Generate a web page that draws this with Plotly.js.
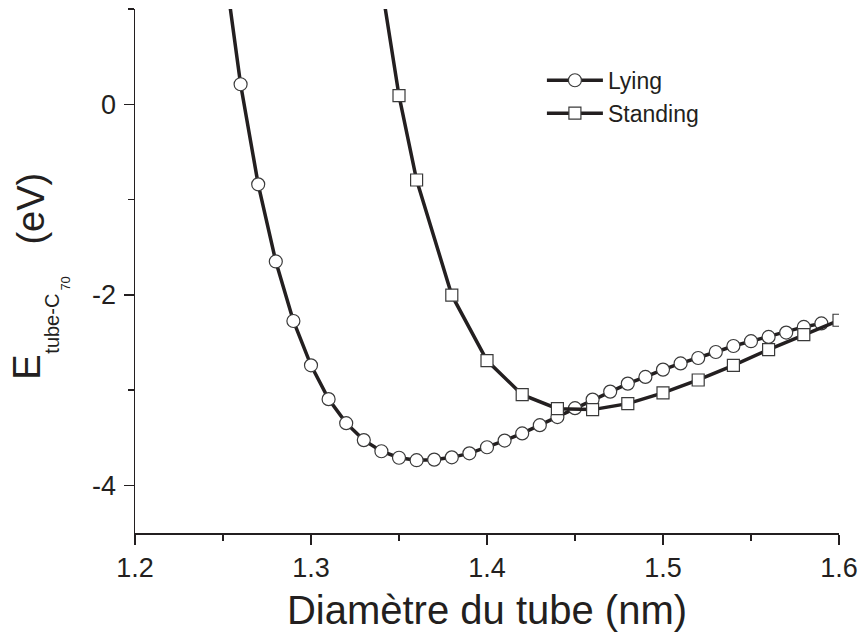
<!DOCTYPE html>
<html>
<head>
<meta charset="utf-8">
<script src="https://cdn.plot.ly/plotly-3.0.1.min.js"></script>
<style>html,body{margin:0;padding:0;background:#fff;}#chart{width:858px;height:638px;}</style>
</head>
<body>
<div id="chart"></div>
<script>
// Diameter (nm) and energy (eV)
const lyingX = [1.25,1.26,1.27,1.28,1.29,1.30,1.31,1.32,1.33,1.34,1.35,1.36,1.37,1.38,1.39,1.40,1.41,1.42,1.43,1.44,1.45,1.46,1.47,1.48,1.49,1.50,1.51,1.52,1.53,1.54,1.55,1.56,1.57,1.58,1.59];
const lyingY = [1.57,0.21,-0.84,-1.65,-2.275,-2.74,-3.095,-3.347,-3.525,-3.642,-3.71,-3.736,-3.73,-3.706,-3.664,-3.60,-3.53,-3.455,-3.368,-3.283,-3.19,-3.10,-3.016,-2.932,-2.862,-2.785,-2.72,-2.663,-2.60,-2.537,-2.487,-2.442,-2.396,-2.337,-2.30];
const standingX = [1.34,1.35,1.36,1.38,1.40,1.42,1.44,1.46,1.48,1.50,1.52,1.54,1.56,1.58,1.60];
const standingY = [1.26,0.09,-0.795,-2.004,-2.69,-3.048,-3.195,-3.205,-3.142,-3.03,-2.894,-2.74,-2.575,-2.417,-2.267];
const xTickVals = [1.2,1.3,1.4,1.5,1.6];
const xTickText = ['1.2','1.3','1.4','1.5','1.6'];
const yTickVals = [0,-2,-4];
const yTickText = ['0','-2','-4'];
const seriesNames = ['Lying','Standing'];
const yTitleParts = ['E','tube-C','70','(eV)'];
const xTitle = 'Diamètre du tube (nm)';

const FONT = 'Liberation Sans, Arial, Helvetica, sans-serif';
const INK = '#231f20';

// plot-area geometry in px (for placing the composite y title)
const M = {l: 134.5, r: 18.5, t: 9.3, b: 105.3};
const W = 858, H = 638;
const pw = W - M.l - M.r, ph = H - M.t - M.b;
const px2x = p => (p - M.l) / pw;
const py2y = p => (H - M.b - p) / ph;

const traces = [
  {x: lyingX, y: lyingY, name: seriesNames[0], type: 'scatter', mode: 'lines+markers',
   line: {color: INK, width: 3.5},
   marker: {symbol: 'circle', size: 13, color: '#ffffff', line: {color: '#3a3a3a', width: 1.2}}},
  {x: standingX, y: standingY, name: seriesNames[1], type: 'scatter', mode: 'lines+markers',
   line: {color: INK, width: 3.5},
   marker: {symbol: 'square', size: 12, color: '#ffffff', line: {color: '#3a3a3a', width: 1.2}}}
];

function rotAnn(text, cx, cy, size) {
  return {xref: 'paper', yref: 'paper', x: px2x(cx), y: py2y(cy), xanchor: 'center', yanchor: 'middle',
          textangle: -90, showarrow: false, text: text, font: {family: FONT, size: size, color: INK}};
}

const layout = {
  width: W, height: H,
  margin: M,
  paper_bgcolor: '#ffffff', plot_bgcolor: '#ffffff',
  font: {family: FONT, color: INK},
  showlegend: true,
  legend: {x: 0.578, y: 0.905, xanchor: 'left', yanchor: 'top', bgcolor: 'rgba(0,0,0,0)',
           itemwidth: 56,
           font: {family: FONT, size: 23, color: INK}, tracegroupgap: 0},
  xaxis: {
    range: [1.2, 1.6], showgrid: false, zeroline: false, showline: true,
    linecolor: INK, linewidth: 1.5, mirror: false,
    ticks: 'outside', ticklen: 10, tickwidth: 1.5, tickcolor: INK,
    tickvals: xTickVals, ticktext: xTickText,
    tickfont: {family: FONT, size: 27, color: INK},
    minor: {dtick: 0.05, tick0: 1.2, ticks: 'outside', ticklen: 6, tickwidth: 1.5, tickcolor: INK, showgrid: false},
    title: {text: xTitle, font: {family: FONT, size: 40, color: INK}, standoff: 14}
  },
  yaxis: {
    range: [-4.5, 1], showgrid: false, zeroline: false, showline: true,
    linecolor: INK, linewidth: 1.5, mirror: false,
    ticks: 'outside', ticklen: 10, tickwidth: 1.5, tickcolor: INK,
    tickvals: yTickVals, ticktext: yTickText,
    tickfont: {family: FONT, size: 27, color: INK},
    minor: {dtick: 1, tick0: 0, ticks: 'outside', ticklen: 6, tickwidth: 1.5, tickcolor: INK, showgrid: false},
    ticklabelstandoff: 2
  },
  annotations: [
    rotAnn(yTitleParts[0], 26, 367, 38),
    rotAnn(yTitleParts[1], 51, 324, 20),
    rotAnn(yTitleParts[2], 64, 284, 13),
    rotAnn(yTitleParts[3], 30, 209, 38)
  ]
};

Plotly.newPlot('chart', traces, layout, {displayModeBar: false, staticPlot: true});
</script>
</body>
</html>
